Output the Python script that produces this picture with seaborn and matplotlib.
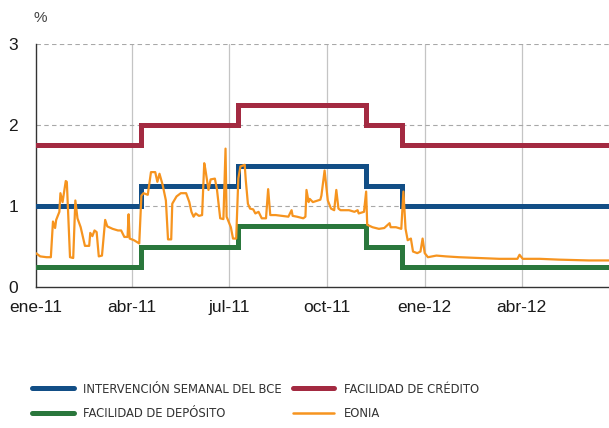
import matplotlib
matplotlib.use("Agg")
import matplotlib.pyplot as plt
from matplotlib.lines import Line2D
import seaborn as sns
import pandas as pd

# ---- data ----
rate_dates = ["2011-01-01", "2011-04-10", "2011-07-10", "2011-11-07", "2011-12-11", "2012-06-22"]
mro = [1.00, 1.25, 1.50, 1.25, 1.00, 1.00]
credit = [1.75, 2.00, 2.25, 2.00, 1.75, 1.75]
deposit = [0.25, 0.50, 0.75, 0.50, 0.25, 0.25]

eonia_dates = [
    "2011-01-01", "2011-01-05", "2011-01-11", "2011-01-15", "2011-01-17", "2011-01-19", "2011-01-20",
    "2011-01-23", "2011-01-24", "2011-01-26", "2011-01-29", "2011-01-30", "2011-02-02", "2011-02-05",
    "2011-02-07", "2011-02-09", "2011-02-12", "2011-02-16", "2011-02-20", "2011-02-21", "2011-02-23",
    "2011-02-25", "2011-02-27", "2011-03-01", "2011-03-04", "2011-03-07", "2011-03-09", "2011-03-14",
    "2011-03-19", "2011-03-22", "2011-03-25", "2011-03-28", "2011-03-29", "2011-03-30", "2011-04-03",
    "2011-04-08", "2011-04-10", "2011-04-12", "2011-04-16", "2011-04-19", "2011-04-23", "2011-04-25",
    "2011-04-27", "2011-04-30", "2011-05-03", "2011-05-05", "2011-05-08", "2011-05-09", "2011-05-13",
    "2011-05-17", "2011-05-22", "2011-05-25", "2011-05-27", "2011-05-29", "2011-05-31", "2011-06-03",
    "2011-06-06", "2011-06-08", "2011-06-09", "2011-06-12", "2011-06-14", "2011-06-18", "2011-06-20",
    "2011-06-23", "2011-06-26", "2011-06-28", "2011-06-29", "2011-07-03", "2011-07-05", "2011-07-08",
    "2011-07-10", "2011-07-12", "2011-07-16", "2011-07-17", "2011-07-19", "2011-07-21", "2011-07-24",
    "2011-07-26", "2011-07-29", "2011-08-01", "2011-08-05", "2011-08-07", "2011-08-09", "2011-08-14",
    "2011-08-20", "2011-08-26", "2011-08-29", "2011-08-30", "2011-09-03", "2011-09-09", "2011-09-11",
    "2011-09-12", "2011-09-14", "2011-09-15", "2011-09-18", "2011-09-25", "2011-09-26", "2011-09-29",
    "2011-10-02", "2011-10-05", "2011-10-08", "2011-10-10", "2011-10-12", "2011-10-14", "2011-10-22",
    "2011-10-27", "2011-10-30", "2011-10-31", "2011-11-05", "2011-11-07", "2011-11-08", "2011-11-13",
    "2011-11-19", "2011-11-24", "2011-11-29", "2011-11-30", "2011-12-05", "2011-12-10", "2011-12-12",
    "2011-12-14", "2011-12-16", "2011-12-19", "2011-12-21", "2011-12-25", "2011-12-28", "2011-12-30",
    "2012-01-01", "2012-01-04", "2012-01-12", "2012-01-21", "2012-02-02", "2012-02-21", "2012-03-11",
    "2012-03-28", "2012-03-30", "2012-04-02", "2012-04-18", "2012-05-06", "2012-06-03", "2012-06-22",
]
eonia = [
    0.42, 0.38, 0.37, 0.37, 0.81, 0.73, 0.83,
    0.93, 1.16, 1.05, 1.31, 1.30, 0.37, 0.36,
    1.07, 0.85, 0.74, 0.51, 0.51, 0.67, 0.63,
    0.70, 0.68, 0.38, 0.39, 0.83, 0.75, 0.72,
    0.70, 0.70, 0.62, 0.62, 0.90, 0.60, 0.58,
    0.54, 1.13, 1.16, 1.14, 1.42, 1.42, 1.30,
    1.40, 1.26, 1.07, 0.59, 0.59, 1.03, 1.12,
    1.16, 1.16, 1.05, 0.93, 0.87, 0.91, 0.88,
    0.89, 1.53, 1.46, 1.20, 1.33, 1.34, 1.20,
    0.85, 0.84, 1.71, 0.87, 0.74, 0.60, 0.60,
    1.34, 1.49, 1.51, 1.32, 1.03, 0.97, 0.96,
    0.91, 0.93, 0.85, 0.85, 1.21, 0.89, 0.89,
    0.88, 0.87, 0.95, 0.88, 0.87, 0.85, 0.87,
    1.20, 1.05, 1.09, 1.05, 1.08, 1.13, 1.44,
    1.07, 0.97, 0.95, 1.20, 0.97, 0.95, 0.95,
    0.93, 0.95, 0.91, 0.93, 1.18, 0.77, 0.74,
    0.72, 0.73, 0.79, 0.74, 0.74, 0.72, 1.18,
    0.72, 0.58, 0.60, 0.44, 0.42, 0.44, 0.60,
    0.42, 0.37, 0.39, 0.38, 0.37, 0.36, 0.35,
    0.35, 0.40, 0.35, 0.35, 0.34, 0.33, 0.33,
]

tick_dates = ["2011-01-01", "2011-04-01", "2011-07-01", "2011-10-01", "2012-01-01", "2012-04-01"]
tick_labels = ["ene-11", "abr-11", "jul-11", "oct-11", "ene-12", "abr-12"]
y_ticks = [0, 1, 2, 3]

labels = {
    "mro": "INTERVENCIÓN SEMANAL DEL BCE",
    "credit": "FACILIDAD DE CRÉDITO",
    "deposit": "FACILIDAD DE DEPÓSITO",
    "eonia": "EONIA",
}
colors = {
    "mro": "#124e86",
    "credit": "#a32a41",
    "deposit": "#2a773c",
    "eonia": "#f6941f",
}

# ---- frames ----
rates = pd.DataFrame({
    "date": pd.to_datetime(rate_dates),
    "mro": mro, "credit": credit, "deposit": deposit,
})
eon = pd.DataFrame({"date": pd.to_datetime(eonia_dates), "eonia": eonia})

sns.set_style("white")
plt.rcParams["font.family"] = ["Liberation Sans", "DejaVu Sans"]

fig = plt.figure(figsize=(6.09, 4.28), dpi=100)
ax = fig.add_axes([0.059, 0.329, 0.941, 0.568])

lw_rate = 3.6
for key in ["credit", "mro", "deposit"]:
    sns.lineplot(data=rates, x="date", y=key, ax=ax, color=colors[key],
                 linewidth=lw_rate, drawstyle="steps-post", estimator=None,
                 solid_joinstyle="miter", zorder=3)
sns.lineplot(data=eon, x="date", y="eonia", ax=ax, color=colors["eonia"],
             linewidth=1.6, estimator=None, zorder=4)

ax.set_xlim(pd.Timestamp("2011-01-01"), pd.Timestamp("2012-06-22"))
ax.set_ylim(0, 3)
ax.set_xticks(pd.to_datetime(tick_dates))
ax.set_xticklabels(tick_labels)
ax.set_yticks(y_ticks)
ax.set_yticklabels([str(v) for v in y_ticks])
ax.set_xlabel("")
ax.set_ylabel("")

# grid
for d in pd.to_datetime(tick_dates)[1:]:
    ax.axvline(d, color="#c4c4c4", linewidth=0.9, zorder=1)
for v in y_ticks[1:]:
    ax.axhline(v, color="#a8a8a8", linewidth=0.8, linestyle=(0, (4, 3)), zorder=1)

for s in ["top", "right"]:
    ax.spines[s].set_visible(False)
for s in ["left", "bottom"]:
    ax.spines[s].set_color("#333333")
    ax.spines[s].set_linewidth(1.0)
ax.tick_params(axis="both", direction="in", length=5, width=1, color="#333333",
               labelsize=12.5, labelcolor="#1a1a1a")
ax.tick_params(axis="x", pad=9)
ax.tick_params(axis="y", pad=13)

fig.text(0.055, 0.958, "%", fontsize=11, color="#444444", ha="left", va="center")

legend_prop = {"family": "DejaVu Sans", "stretch": "condensed", "size": 9.3}
left_handles = [
    Line2D([], [], color=colors["mro"], linewidth=lw_rate),
    Line2D([], [], color=colors["deposit"], linewidth=lw_rate),
]
right_handles = [
    Line2D([], [], color=colors["credit"], linewidth=lw_rate),
    Line2D([], [], color=colors["eonia"], linewidth=1.8),
]
common = dict(loc="upper left", frameon=False, prop=legend_prop, handlelength=3.2,
              handletextpad=0.72, labelspacing=0.9, borderpad=0, borderaxespad=0,
              labelcolor="#333333")
leg1 = fig.legend(left_handles, [labels["mro"], labels["deposit"]],
                  bbox_to_anchor=(0.053, 0.106), **common)
leg2 = fig.legend(right_handles, [labels["credit"], labels["eonia"]],
                  bbox_to_anchor=(0.481, 0.106), **common)

fig.savefig("out.png", dpi=100)
